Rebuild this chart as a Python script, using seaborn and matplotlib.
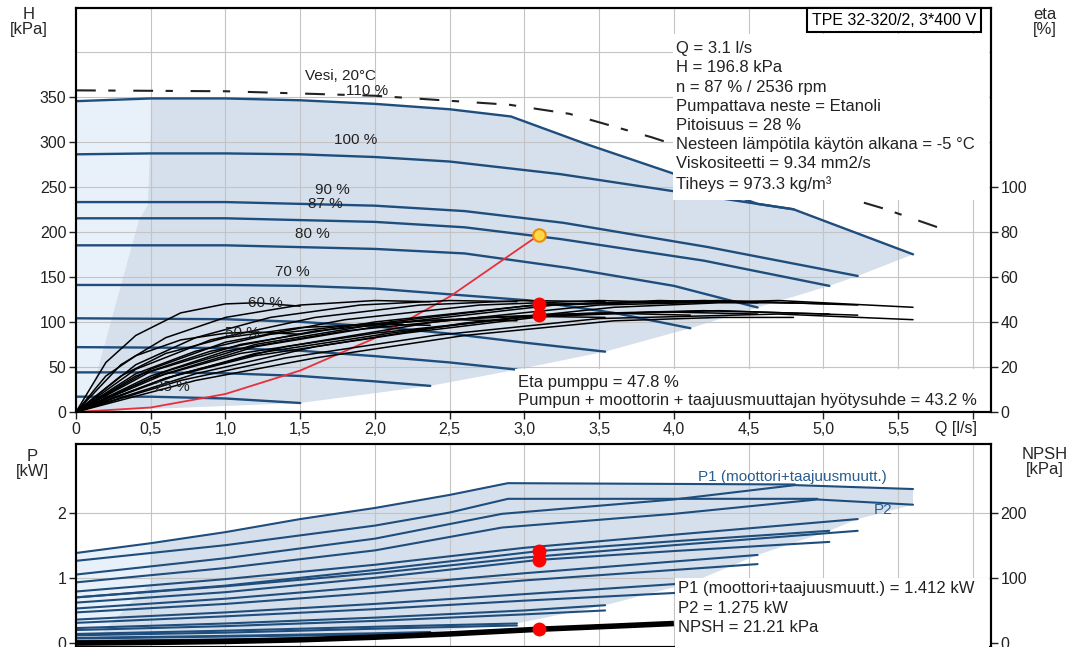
import numpy as np
import pandas as pd
import matplotlib.pyplot as plt
from matplotlib.patches import Rectangle
import seaborn as sns

# Kierrosluvut (% nimellisestä)
speeds = [110, 100, 90, 87, 80, 70, 60, 50, 40, 25]
speed_labels = ["110 %", "100 %", "90 %", "87 %", "80 %", "70 %", "60 %", "50 %", "", "25 %"]

# QH-käyrät [l/s], [kPa]
hq_q = [
    [0, 0.5, 1.0, 1.5, 2.0, 2.5, 2.91, 3.42, 3.99, 4.56, 4.8],
    [0, 0.5, 1.0, 1.5, 2.0, 2.5, 3.24, 4.0, 4.56, 4.8, 5.2, 5.6],
    [0, 1.0, 2.0, 2.6, 3.26, 4.23, 5.23],
    [0, 1.0, 2.0, 2.6, 3.24, 4.2, 5.04],
    [0, 1.0, 2.0, 2.6, 3.29, 4.0, 4.56],
    [0, 1.0, 1.5, 2.0, 3.02, 3.6, 4.11],
    [0, 1.0, 1.5, 2.0, 2.5, 3.0, 3.54],
    [0, 1.0, 1.5, 2.0, 2.5, 2.95],
    [0, 0.5, 1.0, 1.5, 2.0, 2.37],
    [0, 0.5, 1.0, 1.5],
]
hq_h = [
    [345, 348, 348, 346, 342, 336, 328, 297, 265, 231, 225],
    [286, 287, 287, 286, 283, 278, 264, 245, 231, 225, 200, 175],
    [233, 233, 229, 223, 210, 183, 151],
    [215, 215, 211, 205, 192, 168, 140],
    [185, 185, 181, 176, 160, 140, 116],
    [141, 141, 140, 137, 124, 110, 93],
    [104, 103, 100, 95, 87, 77, 67],
    [72, 71, 68, 62, 55, 47],
    [44, 44, 43, 40, 34, 29],
    [17, 17, 15, 10],
]

# Hyötysuhdekäyrät [%]: pumppu ja kokonais
eta_q = [
    [0, 0.8, 1.6, 2.6, 3.6, 4.3, 4.8],
    [0, 0.7, 1.4, 2.4, 3.5, 4.7, 5.6],
    [0, 0.6, 1.2, 2.2, 3.2, 4.3, 5.23],
    [0, 0.6, 1.2, 2.1, 3.1, 4.2, 5.04],
    [0, 0.5, 1.1, 2.0, 3.0, 3.9, 4.56],
    [0, 0.5, 1.0, 1.8, 2.7, 3.5, 4.11],
    [0, 0.4, 0.9, 1.6, 2.3, 3.0, 3.54],
    [0, 0.4, 0.8, 1.3, 1.9, 2.5, 2.95],
    [0, 0.3, 0.6, 1.0, 1.5, 2.0, 2.37],
    [0, 0.2, 0.4, 0.7, 1.0, 1.2, 1.5],
]
eta_pump = [
    [0, 17, 29, 39.5, 46.5, 48.5, 48.5],
    [0, 17, 29, 40, 47.5, 49.5, 46.5],
    [0, 17, 29, 40, 47.5, 49.5, 47.5],
    [0, 18, 30, 40, 47.8, 49.5, 48],
    [0, 18, 30, 40, 47, 49.5, 48.5],
    [0, 19, 31, 41, 47.5, 49.5, 48.5],
    [0, 19, 32, 42, 47.5, 49.5, 49],
    [0, 21, 33, 42, 47.5, 49.5, 49],
    [0, 21, 33, 42, 47.5, 49.5, 49],
    [0, 22, 34, 44, 48, 48.5, 47],
]
eta_total = [
    [0, 14, 24, 34, 40.5, 42, 42],
    [0, 14, 24, 34, 41.5, 43.5, 41],
    [0, 15, 25, 35, 43, 45, 43],
    [0, 15, 26, 35, 43.2, 45, 43.5],
    [0, 15, 26, 35, 42, 44.5, 43.5],
    [0, 16, 27, 36, 42, 44, 43],
    [0, 16, 27, 36, 40.5, 42.5, 42],
    [0, 17, 27, 34.5, 39, 41, 40.5],
    [0, 16, 26, 33, 37.5, 39, 38.5],
    [0, 16, 25, 32, 35, 35.5, 34.5],
]

# Toiminta-alue (verhokäyrä)
env_top_q = [0, 0.5, 1.0, 1.5, 2.0, 2.5, 2.91, 3.42, 3.99, 4.56, 4.8, 5.2, 5.6]
env_top_h = [345, 348, 348, 346, 342, 336, 328, 297, 265, 231, 225, 200, 175]
env_bot_q = [0, 1.5, 2.37, 2.95, 3.54, 4.11, 4.56, 5.04, 5.23, 5.6]
env_bot_h = [0, 10, 29, 47, 67, 93, 116, 140, 151, 175]
strip_q = [0, 0, 0.5, 0.51, 0.48, 0.42, 0.3, 0.2, 0.1]
strip_h = [0, 345, 348, 347, 230, 212, 140, 80, 20]

# Vesi 20 °C
water_q = [0, 1.0, 2.0, 2.9, 3.3, 3.85, 4.5, 5.4, 5.8]
water_h = [357, 356, 351, 341, 331, 305, 270, 226, 203]

# Järjestelmäkäyrä
sys_q = [0, 0.5, 1.0, 1.5, 2.0, 2.5, 3.1]
sys_h = [0, 5, 20, 46, 82, 128, 196.8]

op_q, op_h = 3.1, 196.8
op_eta = [47.8, 43.2]
op_p = [1.412, 1.275]
op_npsh = 21.21

# Tehokäyrät [kW]
p1_q = [
    [0, 0.5, 1.0, 1.5, 2.0, 2.5, 2.89, 4.81],
    [0, 1.0, 2.0, 2.85, 4.0, 4.81, 5.6],
    [0, 1.0, 2.0, 3.0, 4.0, 5.23],
    [0, 1.0, 2.0, 3.1, 4.0, 5.04],
    [0, 1.0, 2.0, 3.0, 4.56],
    [0, 1.0, 2.0, 3.0, 4.11],
    [0, 1.0, 2.0, 3.0, 3.54],
    [0, 1.0, 2.0, 2.95],
    [0, 1.0, 2.0, 2.37],
    [0, 0.75, 1.5],
]
p1_p = [
    [1.38, 1.53, 1.70, 1.90, 2.07, 2.27, 2.45, 2.43],
    [1.05, 1.3, 1.6, 1.98, 2.2, 2.42, 2.36],
    [0.79, 0.98, 1.2, 1.46, 1.66, 1.9],
    [0.7, 0.88, 1.12, 1.41, 1.56, 1.72],
    [0.53, 0.68, 0.87, 1.07, 1.35],
    [0.36, 0.47, 0.6, 0.75, 0.92],
    [0.23, 0.3, 0.39, 0.5, 0.58],
    [0.14, 0.19, 0.25, 0.3],
    [0.08, 0.11, 0.15, 0.17],
    [0.03, 0.05, 0.07],
]
p2_q = [
    [0, 1.0, 2.0, 2.5, 2.89, 4.96],
    [0, 1.0, 2.0, 2.85, 4.0, 4.96, 5.6],
    [0, 1.0, 2.0, 3.0, 4.0, 5.23],
    [0, 1.0, 2.0, 3.1, 4.0, 5.04],
    [0, 1.0, 2.0, 3.0, 4.56],
    [0, 1.0, 2.0, 3.0, 4.11],
    [0, 1.0, 2.0, 3.0, 3.54],
    [0, 1.0, 2.0, 2.95],
    [0, 1.0, 2.0, 2.37],
    [0, 0.75, 1.5],
]
p2_p = [
    [1.26, 1.5, 1.8, 2.0, 2.21, 2.21],
    [0.93, 1.15, 1.42, 1.77, 1.98, 2.2, 2.12],
    [0.7, 0.87, 1.07, 1.31, 1.5, 1.72],
    [0.62, 0.78, 1.0, 1.275, 1.41, 1.55],
    [0.47, 0.6, 0.77, 0.96, 1.21],
    [0.31, 0.41, 0.52, 0.65, 0.78],
    [0.2, 0.26, 0.34, 0.44, 0.5],
    [0.12, 0.16, 0.22, 0.27],
    [0.07, 0.1, 0.13, 0.15],
    [0.02, 0.04, 0.06],
]
penv_top_q = [0, 0.5, 1.0, 1.5, 2.0, 2.5, 2.89, 4.81, 5.6]
penv_top_p = [1.38, 1.53, 1.70, 1.90, 2.07, 2.27, 2.45, 2.43, 2.36]
penv_bot_q = [0, 1.5, 2.37, 2.95, 3.54, 4.11, 4.56, 5.04, 5.23, 5.6]
penv_bot_p = [0, 0.07, 0.17, 0.3, 0.58, 0.92, 1.35, 1.72, 1.9, 2.12]
pstrip_q = [0, 0, 0.5, 0.5, 0.42, 0.3, 0.15]
pstrip_p = [0, 1.38, 1.53, 0.9, 0.75, 0.45, 0.1]

# NPSH [kPa]
npsh_q = [0, 0.5, 1.0, 1.5, 2.0, 2.5, 3.1, 3.6, 4.0]
npsh_v = [0, 1, 2.5, 5, 9, 14, 21.21, 26, 30]


def long_df(qs, ys, name):
    rows = []
    for s, q, y in zip(speeds, qs, ys):
        for a, b in zip(q, y):
            rows.append((s, a, b))
    return pd.DataFrame(rows, columns=["speed", "Q", name])


sns.set_theme(style="ticks")
plt.rcParams['font.family'] = ['Liberation Sans', 'DejaVu Sans']

BLUE = "#1f4d7c"
GRID = "#c4c4c4"
ENV = "#d5e0ec"
STRIP = "#e8f0f9"
RED = "#e8303c"
TXT = "#222222"

fig = plt.figure(figsize=(10.68, 6.47), dpi=100)
ax1 = fig.add_axes([0.07116, 0.36321, 0.8565, 0.62442])
ax1r = ax1.twinx()
ax2 = fig.add_axes([0.07116, 0.0, 0.8565, 0.31376])
ax2r = ax2.twinx()

# --- yläkuva: H ja eta ---
ax1.set_xlim(0, 6.12)
ax1.set_ylim(0, 448.4)
ax1r.set_ylim(0, 179.4)

ax1.fill(env_top_q + env_bot_q[::-1], env_top_h + env_bot_h[::-1], color=ENV, lw=0, zorder=0)
ax1.fill(strip_q, strip_h, color=STRIP, lw=0, zorder=0)

for q in np.arange(0.5, 6.01, 0.5):
    ax1.axvline(q, color=GRID, lw=0.8, zorder=1)
    ax2.axvline(q, color=GRID, lw=0.8, zorder=1)
for h in range(50, 401, 50):
    ax1.axhline(h, color=GRID, lw=0.8, zorder=1)
for p in [1, 2]:
    ax2.axhline(p, color=GRID, lw=0.8, zorder=1)

ax1.plot(water_q, water_h, color=TXT, lw=1.5, dashes=(9.5, 6, 3.5, 8.5), zorder=2)

sns.lineplot(data=long_df(hq_q, hq_h, "H"), x="Q", y="H", units="speed", estimator=None,
             sort=False, color=BLUE, lw=1.7, legend=False, ax=ax1, zorder=3)
ax1.plot(sys_q, sys_h, color=RED, lw=1.3, zorder=4)
ax1.plot([op_q], [op_h], marker="o", ms=9, mfc="#ffd84a", mec="#f08c00", mew=1.5, zorder=6)

sns.lineplot(data=long_df(eta_q, eta_pump, "eta"), x="Q", y="eta", units="speed", estimator=None,
             sort=False, color="black", lw=1.1, legend=False, ax=ax1r)
sns.lineplot(data=long_df(eta_q, eta_total, "eta"), x="Q", y="eta", units="speed", estimator=None,
             sort=False, color="black", lw=1.1, legend=False, ax=ax1r)
ax1r.plot([op_q] * 2, op_eta, ls="none", marker="o", ms=9, color="red", zorder=5)

label_pos = [(1.95, 356), (1.869, 302), (1.714, 246), (1.668, 231), (1.581, 198),
             (1.447, 155), (1.266, 121), (1.112, 88), None, (0.643, 28)]
for lab, pos in zip(speed_labels, label_pos):
    if pos is None:
        continue
    ax1r.text(pos[0], pos[1], lab, transform=ax1.transData, ha="center", va="center",
              fontsize=11, color=TXT, zorder=7)
ax1r.text(1.53, 373, "Vesi, 20°C", transform=ax1.transData, ha="left", va="center",
          fontsize=11, color=TXT, zorder=7)

# valkoiset tekstialueet
ax1r.add_patch(Rectangle((0.653, 0.525), 0.345, 0.41, transform=ax1.transAxes,
                         facecolor="white", edgecolor="none", zorder=8))
ax1r.add_patch(Rectangle((0.48, 0.004), 0.518, 0.102, transform=ax1.transAxes,
                         facecolor="white", edgecolor="none", zorder=8))
ax2r.add_patch(Rectangle((0.655, 0.0), 0.343, 0.34, transform=ax2.transAxes,
                         facecolor="white", edgecolor="none", zorder=8))

info_top = ("Q = 3.1 l/s\nH = 196.8 kPa\nn = 87 % / 2536 rpm\nPumpattava neste = Etanoli\n"
            "Pitoisuus = 28 %\nNesteen lämpötila käytön alkana = -5 °C\n"
            "Viskositeetti = 9.34 mm2/s\nTiheys = 973.3 kg/m³")
ax1r.text(0.656, 0.918, info_top, transform=ax1.transAxes, ha="left", va="top", fontsize=12,
          linespacing=1.35, color=TXT, zorder=10)
ax1r.text(0.483, 0.091, "Eta pumppu = 47.8 %\nPumpun + moottorin + taajuusmuuttajan hyötysuhde = 43.2 %",
          transform=ax1.transAxes, ha="left", va="top", fontsize=12, linespacing=1.26,
          color=TXT, zorder=10)
ax1r.text(0.8046, 0.970, "TPE 32-320/2, 3*400 V", transform=ax1.transAxes, ha="left", va="center",
          fontsize=11.5, color="black", zorder=11,
          bbox=dict(boxstyle="square,pad=0.3", facecolor="white", edgecolor="black", lw=1.5))

xt = list(np.arange(0, 6.01, 0.5))
ax1.set_xticks(xt)
ax1.set_xticklabels([("%.1f" % v).replace(".", ",") if v > 0 else "0" for v in xt[:-1]] + [""])
ax1.text(5.89, -0.04, "Q [l/s]", transform=ax1.get_xaxis_transform(), ha="center", va="center",
         fontsize=11.5, color=TXT)
ax1.set_yticks(range(0, 351, 50))
ax1r.set_yticks(range(0, 101, 20))

# --- alakuva: P ja NPSH ---
ax2.set_xlim(0, 6.12)
ax2.set_ylim(-0.06, 3.05)
ax2r.set_ylim(-6, 305)
ax2.fill(penv_top_q + penv_bot_q[::-1], penv_top_p + penv_bot_p[::-1], color=ENV, lw=0, zorder=0)
ax2.fill(pstrip_q, pstrip_p, color=STRIP, lw=0, zorder=0)

sns.lineplot(data=long_df(p1_q, p1_p, "P"), x="Q", y="P", units="speed", estimator=None,
             sort=False, color=BLUE, lw=1.5, legend=False, ax=ax2, zorder=3)
sns.lineplot(data=long_df(p2_q, p2_p, "P"), x="Q", y="P", units="speed", estimator=None,
             sort=False, color=BLUE, lw=1.5, legend=False, ax=ax2, zorder=3)
ax2.plot([op_q] * 2, op_p, ls="none", marker="o", ms=9, color="red", zorder=5)
ax2r.plot(npsh_q, npsh_v, color="black", lw=4, solid_capstyle="butt", zorder=4)
ax2r.plot([op_q], [op_npsh], marker="o", ms=9, color="red", zorder=5)

ax2r.text(4.79, 2.55, "P1 (moottori+taajuusmuutt.)", transform=ax2.transData, ha="center",
          va="center", fontsize=11, color="#2a5d8f", zorder=7)
ax2r.text(5.4, 2.04, "P2", transform=ax2.transData, ha="center", va="center", fontsize=11,
          color="#2a5d8f", zorder=7)
ax2r.text(0.658, 0.325, "P1 (moottori+taajuusmuutt.) = 1.412 kW\nP2 = 1.275 kW\nNPSH = 21.21 kPa",
          transform=ax2.transAxes, ha="left", va="top", fontsize=12, linespacing=1.39,
          color=TXT, zorder=10)

ax2.set_xticks(xt)
ax2.set_yticks([0, 1, 2])
ax2r.set_yticks([0, 100, 200])

for a in (ax1, ax1r, ax2, ax2r):
    a.set_xlabel("")
    a.set_ylabel("")
    for sp in a.spines.values():
        sp.set_color("black")
        sp.set_linewidth(1.5)
    a.tick_params(direction="out", length=5, width=1, labelsize=11.5, pad=2, colors=TXT)
ax2.tick_params(axis="x", bottom=False, labelbottom=False)
ax2r.tick_params(axis="x", bottom=False, labelbottom=False)

fig.text(29 / 1068, 1 - 22 / 647, "H\n[kPa]", ha="center", va="center", fontsize=12, linespacing=1.0)
fig.text(1045 / 1068, 1 - 22 / 647, "eta\n[%]", ha="center", va="center", fontsize=12, linespacing=1.0)
fig.text(32 / 1068, 1 - 464 / 647, "P\n[kW]", ha="center", va="center", fontsize=12, linespacing=1.0)
fig.text(1045 / 1068, 1 - 462 / 647, "NPSH\n[kPa]", ha="center", va="center", fontsize=12, linespacing=1.0)

fig.savefig("out.png", dpi=100)
